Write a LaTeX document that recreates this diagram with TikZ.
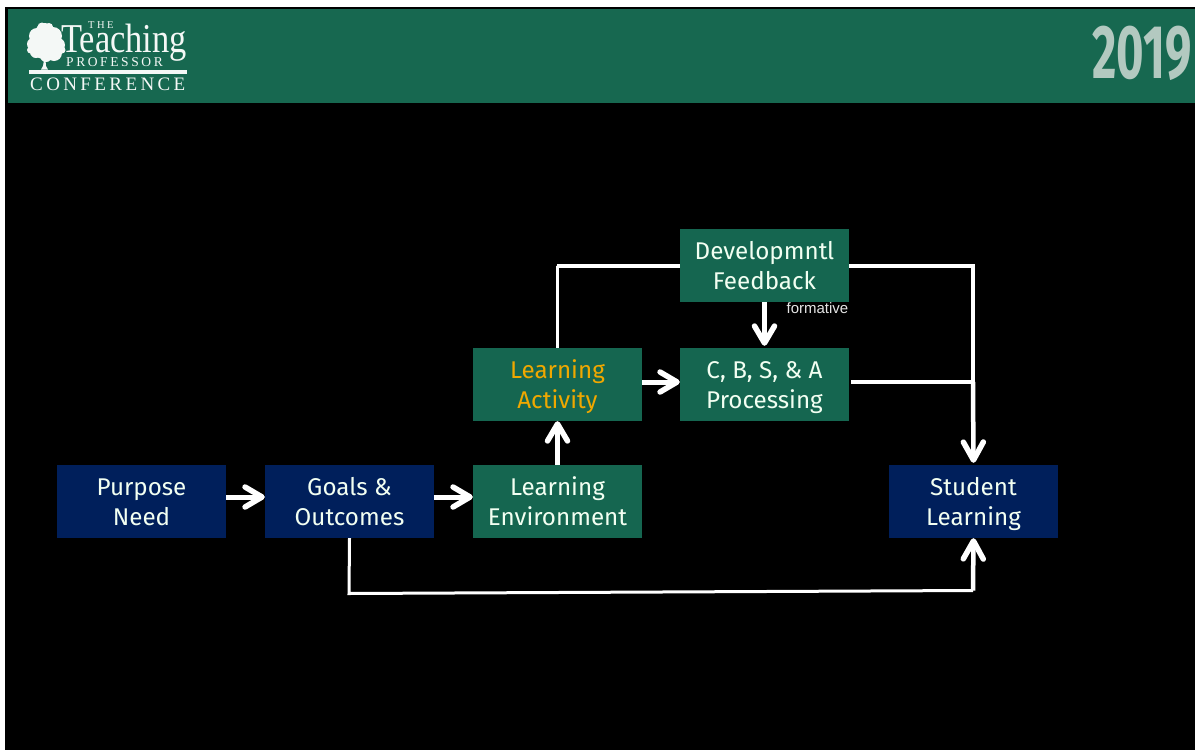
\documentclass[tikz,border=0pt]{standalone}
\usepackage{fontspec}
\setmainfont{Fira Sans}
\newfontfamily\logofont{Liberation Serif}
\newfontfamily\smallfont{Liberation Sans}
\newfontfamily\yearfont{Fira Sans}[UprightFont=* Bold]
\usetikzlibrary{arrows.meta}
\definecolor{bannergreen}{HTML}{176850}
\definecolor{boxgreen}{HTML}{156650}
\definecolor{boxnavy}{HTML}{001F5B}
\definecolor{labelorange}{HTML}{F0A800}
\definecolor{yeargrey}{HTML}{B3C9C0}
\definecolor{logowhite}{HTML}{F4F8F6}
\newcommand{\lineguard}{\rule[-6.5pt]{0pt}{30pt}}
\tikzset{
  x=1pt,y=-1pt,
  stagebox/.style={minimum width=169pt,minimum height=73pt,inner sep=0pt,align=center,
    text=white!95!green,font=\fontsize{24.2}{30}\selectfont},
  greenbox/.style={stagebox,fill=boxgreen},
  navybox/.style={stagebox,fill=boxnavy},
  thickarrow/.style={draw=white,line width=5pt,
    -{Straight Barb[length=17pt,width=20pt,round,line width=5.5pt]}},
  longarrow/.style={draw=white,line width=4.5pt,
    -{Straight Barb[length=18pt,width=20pt,round,line width=5.5pt]}},
  plainline/.style={draw=white,line width=3.5pt},
  logotext/.style={inner sep=0pt,text=logowhite,anchor=base west},
}
\begin{document}
\begin{tikzpicture}
\useasboundingbox (0,0) rectangle (1195,750);
\fill[white] (0,0) rectangle (1195,750);
\fill[black] (5,7) rectangle (1195,750);
\fill[bannergreen] (8,9) rectangle (1195,102.5);
% logo
\fill[logowhite] (44,60) -- (43,66) -- (41,69.5) -- (48,69.5) -- (46,66) -- (45.5,60) -- cycle;
\foreach \cx/\cy/\r in {45/33/10,37/36/8,53/36/9,33/44/6,58/45/7,44/46/13,36/52/6,54/53/8,46/56/6,30.5/50/3.5,62/50/3.5,42/27/4.5,49/27/4}
  \fill[logowhite] (\cx,\cy) circle (\r);
\fill[logowhite] (29,69.5) rectangle (187,74);
\node[logotext,font=\logofont\fontsize{10.5}{10.5}\selectfont] (logothe) at (88,28.5) {T\hspace{2.5pt}H\hspace{2.5pt}E};
\node[logotext,xscale=.84,font=\logofont\fontsize{41}{41}\selectfont] (logoteaching) at (61,52) {Teaching};
\node[logotext,font=\logofont\fontsize{13.5}{13.5}\selectfont] (logoprof) at (66,66) {P\hspace{2.6pt}R\hspace{2.6pt}O\hspace{2.6pt}F\hspace{2.6pt}E\hspace{2.6pt}S\hspace{2.6pt}S\hspace{2.6pt}O\hspace{2.6pt}R};
\node[logotext,font=\logofont\fontsize{19}{19}\selectfont] (logoconf) at (30,90) {C\hspace{3.4pt}O\hspace{3.4pt}N\hspace{3.4pt}F\hspace{3.4pt}E\hspace{3.4pt}R\hspace{3.4pt}E\hspace{3.4pt}N\hspace{3.4pt}C\hspace{3.4pt}E};
\node[inner sep=0pt,text=yeargrey,xscale=.62,font=\yearfont\fontsize{76}{76}\selectfont] (year) at (1142,53) {2019};
% boxes
\node[navybox] (purpose) at (141.5,501.5) {\lineguard Purpose\\\lineguard Need};
\node[navybox] (goals) at (349.5,501.5) {\lineguard Goals \&\\\lineguard Outcomes};
\node[greenbox] (env) at (557.5,501.5) {\lineguard Learning\\\lineguard Environment};
\node[greenbox,text=labelorange] (activity) at (557.5,384.5) {\lineguard Learning\\\lineguard Activity};
\node[greenbox] (process) at (764.5,384.5) {\lineguard C, B, S, \& A\\\lineguard Processing};
\node[greenbox] (feedback) at (764.5,265.5) {\lineguard Developmntl\\\lineguard Feedback};
\node[navybox] (student) at (973.5,501.5) {\lineguard Student\\\lineguard Learning};
\node[inner sep=0pt,text=white!90!black,anchor=east,font=\smallfont\fontsize{15}{15}\selectfont] (formative) at (848.5,308) {formative};
% connectors
\coordinate (fbleft) at (557,266);
\coordinate (fbright) at (973,266);
\coordinate (procjoin) at (973,382);
\coordinate (lowleft) at (349,593.5);
\coordinate (lowright) at (973,590.5);
\draw[thickarrow] ([yshift=4.5pt]purpose.east) -- ([yshift=4.5pt]goals.west);
\draw[thickarrow] ([yshift=4.5pt]goals.east) -- ([yshift=4.5pt]env.west);
\draw[thickarrow] (env.north) -- (activity.south);
\draw[thickarrow] ([yshift=2.5pt]activity.east) -- ([yshift=2.5pt]process.west);
\draw[thickarrow,shorten >=2pt] (feedback.south) -- (process.north);
\draw[plainline,line join=miter] (feedback.west |- fbleft) -- (fbleft) -- (fbleft -| activity.north) -- (activity.north);
\draw[plainline,line join=miter] (feedback.east |- fbright) -- (fbright) -- (procjoin);
\draw[plainline,shorten <=2pt] (process.east |- procjoin) -- (procjoin);
\draw[longarrow,shorten >=2pt] (procjoin) -- (student.north);
\draw[plainline,line width=3pt,line join=miter] (goals.south) -- (lowleft) -- (lowright);
\draw[longarrow] (lowright) -- (student.south);
\end{tikzpicture}
\end{document}
